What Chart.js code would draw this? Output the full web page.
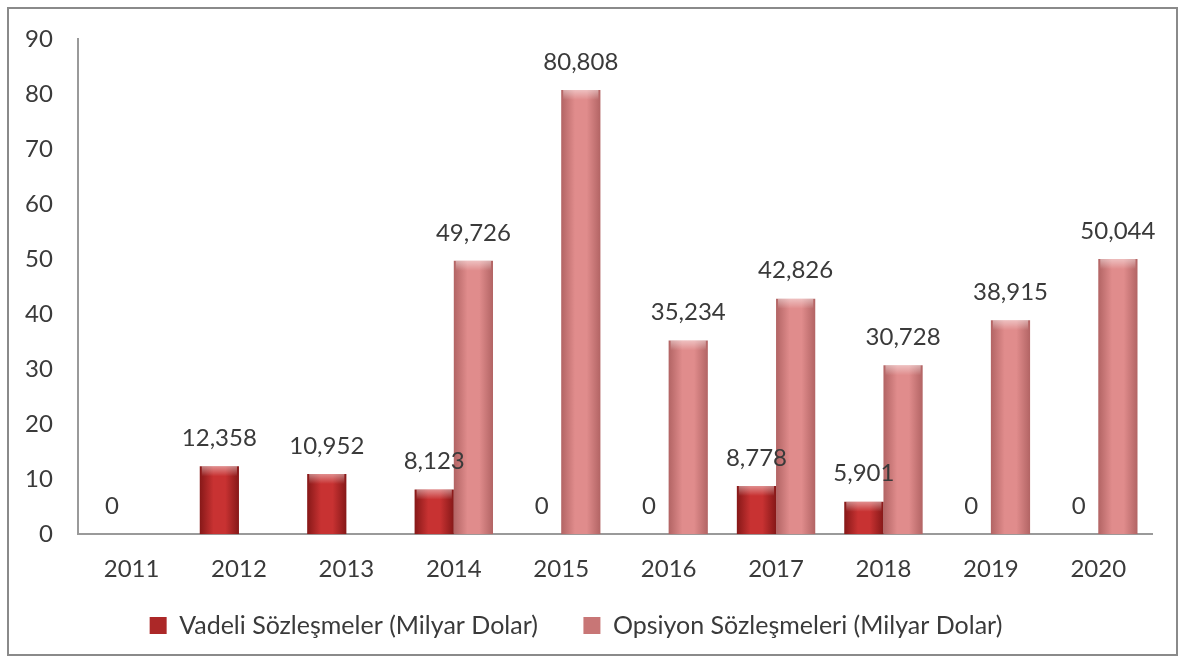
<!DOCTYPE html>
<html>
<head>
<meta charset="utf-8">
<script src="https://cdn.jsdelivr.net/npm/chart.js@4/dist/chart.umd.min.js"></script>
<style>
    html, body { margin: 0; padding: 0; background: #fff; }
    #wrap { position: relative; width: 1185px; height: 663px; }
    #frame { position: absolute; left: 7px; top: 7px; width: 1171px; height: 649px; box-sizing: border-box; border: 2px solid #8a8a8a; pointer-events: none; }
</style>
</head>
<body>
<div id="wrap">
    <canvas id="chart" width="1185" height="663"></canvas>
    <div id="frame"></div>
</div>
<script>
const years = ["2011", "2012", "2013", "2014", "2015", "2016", "2017", "2018", "2019", "2020"];
const vadeli = [0, 12.358, 10.952, 8.123, 0, 0, 8.778, 5.901, 0, 0];
const opsiyon = [null, null, null, 49.726, 80.808, 35.234, 42.826, 30.728, 38.915, 50.044];
const yTicks = [0, 10, 20, 30, 40, 50, 60, 70, 80, 90];

const FONT = "Lato";
const textColor = "#3a3a3a";

// side-to-side shading for each series: edge, middle, edge
const shades = [
    ["#861818", "#c83232", "#861818"],
    ["#b26464", "#e08c8c", "#b26464"]
];

function fmt(v) {
    return v === 0 ? "0" : v.toFixed(3).replace(".", ",");
}

const barShade = {
    id: "barShade",
    beforeDatasetsDraw(chart) {
        const ctx = chart.ctx;
        chart.data.datasets.forEach((ds, i) => {
            chart.getDatasetMeta(i).data.forEach(bar => {
                const left = bar.x - bar.width / 2;
                const right = bar.x + bar.width / 2;
                if (!isFinite(left) || !isFinite(right)) return;
                const g = ctx.createLinearGradient(left, 0, right, 0);
                g.addColorStop(0, shades[i][0]);
                g.addColorStop(0.35, shades[i][1]);
                g.addColorStop(0.65, shades[i][1]);
                g.addColorStop(1, shades[i][2]);
                bar.options = Object.assign({}, bar.options, { backgroundColor: g });
            });
        });
    },
    afterDatasetsDraw(chart) {
        const ctx = chart.ctx;
        ctx.save();
        chart.data.datasets.forEach((ds, i) => {
            chart.getDatasetMeta(i).data.forEach((bar, j) => {
                const v = ds.data[j];
                if (v === null || v === 0) return;
                const left = bar.x - bar.width / 2;
                const h = Math.min(10, bar.base - bar.y);
                const g = ctx.createLinearGradient(0, bar.y, 0, bar.y + h);
                g.addColorStop(0, "rgba(255,255,255,0.45)");
                g.addColorStop(1, "rgba(255,255,255,0)");
                ctx.fillStyle = g;
                ctx.fillRect(left + 2, bar.y, bar.width - 4, h);
            });
        });
        ctx.restore();
    }
};

const valueLabels = {
    id: "valueLabels",
    afterDatasetsDraw(chart) {
        const ctx = chart.ctx;
        ctx.save();
        ctx.font = `24px ${FONT}`;
        ctx.fillStyle = textColor;
        ctx.textAlign = "center";
        ctx.textBaseline = "middle";
        chart.data.datasets.forEach((ds, i) => {
            chart.getDatasetMeta(i).data.forEach((bar, j) => {
                const v = ds.data[j];
                if (v === null || v === undefined) return;
                ctx.fillText(fmt(v), bar.x, bar.y - 28);
            });
        });
        ctx.restore();
    }
};

new Chart(document.getElementById("chart"), {
    type: "bar",
    data: {
        labels: years,
        datasets: [
            { label: "Vadeli Sözleşmeler (Milyar Dolar)", data: vadeli, backgroundColor: "#ac2828", borderWidth: 0 },
            { label: "Opsiyon Sözleşmeleri (Milyar Dolar)", data: opsiyon, backgroundColor: "#c87676", borderWidth: 0 }
        ]
    },
    options: {
        responsive: false,
        animation: false,
        devicePixelRatio: 1,
        layout: { padding: { left: 0, right: 33, top: 32, bottom: 15 } },
        datasets: { bar: { categoryPercentage: 0.73, barPercentage: 1 } },
        scales: {
            x: {
                grid: { display: false, drawTicks: false },
                border: { display: true, color: "#9a9a9a", width: 2 },
                ticks: { color: textColor, font: { family: FONT, size: 24 }, padding: 21 }
            },
            y: {
                min: 0,
                max: 90,
                afterBuildTicks: axis => { axis.ticks = yTicks.map(v => ({ value: v })); },
                grid: { display: false, drawTicks: false },
                border: { display: true, color: "#9a9a9a", width: 2 },
                ticks: { color: textColor, font: { family: FONT, size: 24 }, padding: 25 }
            }
        },
        plugins: {
            legend: {
                position: "bottom",
                labels: {
                    color: textColor,
                    font: { family: FONT, size: 25 },
                    boxWidth: 17,
                    boxHeight: 17,
                    padding: 8,
                    // wider gap after the first entry, as in the original legend
                    generateLabels: chart => Chart.defaults.plugins.legend.labels.generateLabels(chart)
                        .map((item, i) => i === 0 ? Object.assign(item, { text: item.text + "\u2003\u2003" }) : item)
                }
            },
            tooltip: { enabled: false }
        }
    },
    plugins: [barShade, valueLabels]
});
</script>
</body>
</html>
